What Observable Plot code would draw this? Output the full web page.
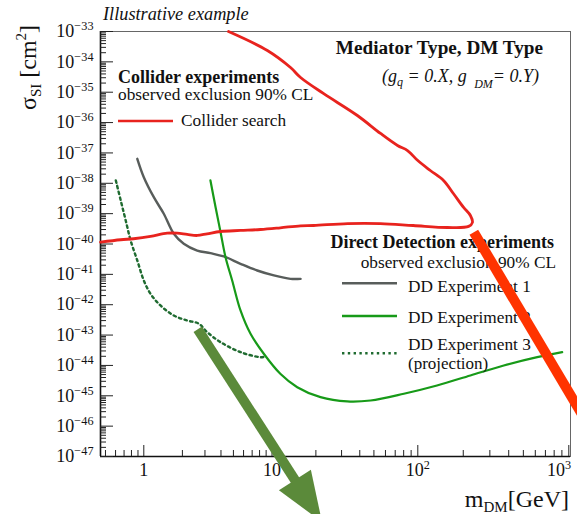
<!DOCTYPE html>
<html>
<head>
<meta charset="utf-8">
<script src="https://cdn.jsdelivr.net/npm/d3@7"></script>
<script src="https://cdn.jsdelivr.net/npm/@observablehq/plot@0.6"></script>
<style>
  html, body { margin: 0; padding: 0; background: #fff; overflow: hidden; }
  #chart svg { display: block; overflow: hidden; }
  #chart text { white-space: pre; }
</style>
</head>
<body>
<div id="chart"></div>
<script>
// ---------------- data ----------------
// Collider search contour (upper branch from top edge to the tip, then lower branch back to the left edge)
const colliderMass = [4.58, 9.2, 13.4, 15.7, 22.5, 38.5, 55.5, 72.6, 85, 100, 121, 148, 172, 201, 223, 230,
  217, 157, 93, 55.5, 33, 19.3, 15.7, 11.4, 8.13, 5.68, 3.97, 3.12, 2.61, 2.18, 1.822, 1.522, 1.128, 0.832, 0.659, 0.457];
const colliderXsec = [1e-33, 2.37e-34, 6.5e-35, 3.05e-35, 9.1e-36, 1.71e-36, 4.37e-37, 1.76e-37, 1.2e-37, 5.6e-38, 2.64e-38, 1.24e-38, 4.6e-39, 1.6e-39, 8.7e-40, 5.1e-40,
  3.8e-40, 3.5e-40, 4.07e-40, 4.7e-40, 4.7e-40, 4.07e-40, 3.98e-40, 3.42e-40, 3.0e-40, 2.79e-40, 2.58e-40, 2.17e-40, 1.91e-40, 2.06e-40, 2.27e-40, 2.27e-40, 1.77e-40, 1.49e-40, 1.38e-40, 1.15e-40];

const dd1Mass = [0.889, 1.0, 1.197, 1.432, 1.714, 2.05, 2.61, 3.31, 4.21, 5.68, 7.67, 10.3, 13.4, 15.7];
const dd1Xsec = [6.41e-38, 1.59e-38, 3.48e-39, 9.9e-40, 2.17e-40, 1.02e-40, 6.1e-41, 4.99e-41, 3.88e-41, 2.23e-41, 1.34e-41, 9.2e-42, 7.1e-42, 7.1e-42];

const dd2Mass = [3.31, 3.63, 3.97, 4.34, 4.89, 5.68, 6.8, 8.63, 11.4, 14.9, 21.5, 32.8, 47.4, 80.2, 134, 223, 371, 618, 904];
const dd2Xsec = [1.24e-38, 1.63e-39, 2.45e-40, 3.68e-41, 6.3e-42, 6.46e-43, 1.1e-43, 2.42e-44, 5.3e-45, 1.92e-45, 9.0e-46, 6.5e-46, 7.0e-46, 1.17e-45, 2.19e-45, 4.67e-45, 9.97e-45, 1.87e-44, 2.74e-44];

const dd3Mass = [0.603, 0.659, 0.721, 0.788, 0.889, 1.0, 1.128, 1.349, 1.714, 2.18, 2.69, 3.12, 3.97, 5.68, 8.13, 8.9];
const dd3Xsec = [1.24e-38, 2.71e-39, 5.96e-40, 1.31e-40, 2.86e-41, 6.3e-42, 2.29e-42, 9.44e-43, 4.42e-43, 3.03e-43, 2.36e-43, 1.25e-43, 5.83e-44, 2.74e-44, 1.87e-44, 1.97e-44];

// overlay arrows (mass, cross-section) : start and end
const redBarFrom = [235, 2.45e-40];
const redBarTo = [1626, 2.14e-47];
const greenArrowFrom = [2.66, 1.49e-43];
const greenArrowTo = [22.2, 6.7e-50];

// ticks
const xTickValues = [1, 10, 100, 1000];
const xTickLabels = ["1", "10", "10^2", "10^3"];
const yTickExponents = [-47, -46, -45, -44, -43, -42, -41, -40, -39, -38, -37, -36, -35, -34, -33];

// ---------------- styling ----------------
const FONT = "'Liberation Serif', 'DejaVu Serif', serif";
const RED = "#e8231e";
const BAR_RED = "#ff3300";
const GRAY = "#585d5b";
const GREEN = "#179a18";
const DKGREEN = "#1f6b30";
const ARROW_GREEN = "#5b8a3a";
const INK = "#111";
const DOTS = "2.4 3.4";

const toRows = (xs, ys) => xs.map((m, i) => ({mass: m, xsec: ys[i]}));
const collider = toRows(colliderMass, colliderXsec);
const dd1 = toRows(dd1Mass, dd1Xsec);
const dd2 = toRows(dd2Mass, dd2Xsec);
const dd3 = toRows(dd3Mass, dd3Xsec);

const yMajor = yTickExponents.map(e => Math.pow(10, e));
const yMinor = [];
for (const e of yTickExponents.slice(0, -1)) for (let k = 2; k <= 9; k++) yMinor.push(k * Math.pow(10, e));
const xDomain = [0.457, 1, 10, 100, 1000, 1026];
const xMinor = [];
for (const e of [-1, 0, 1, 2]) for (let k = 2; k <= 9; k++) {
  const v = k * Math.pow(10, e);
  if (v > xDomain[0] && v < xDomain[xDomain.length - 1]) xMinor.push(v);
}

// ---------------- annotation layout ----------------
const texts = [
  {x: 103, y: 19.5, size: 18.3, style: "italic", parts: ["Illustrative example"]},
  {x: 543, y: 54, anchor: "end", size: 19.2, weight: "bold", parts: ["Mediator Type, DM Type"]},
  {x: 539, y: 81.5, anchor: "end", size: 18, style: "italic",
    parts: ["(g", {text: "q", sub: 4, size: 12}, " = 0.X, g ", {text: " DM", sub: 6, size: 12}, "= 0.Y)"]},
  {x: 118, y: 82.5, size: 18, weight: "bold", parts: ["Collider experiments"]},
  {x: 118, y: 100, size: 17.3, parts: ["observed exclusion 90% CL"]},
  {x: 181, y: 126, size: 17.3, parts: ["Collider search"]},
  {x: 554, y: 248, anchor: "end", size: 18, weight: "bold", parts: ["Direct Detection experiments"]},
  {x: 556, y: 268, anchor: "end", size: 17.3, parts: ["observed exclusion 90% CL"]},
  {x: 408, y: 291.5, size: 17.3, parts: ["DD Experiment 1"]},
  {x: 408, y: 322.5, size: 17.3, parts: ["DD Experiment 2"]},
  {x: 408, y: 349.5, size: 17.3, parts: ["DD Experiment 3"]},
  {x: 408, y: 368.5, size: 17, parts: ["(projection)"]},
  {x: 569, y: 507, anchor: "end", size: 24, parts: ["m", {text: "DM", sub: 5, size: 15}, "[GeV]"]},
  {x: 36, y: 110, rotate: -90, size: 24, parts: ["σ", {text: "SI", sub: 5, size: 15}, " [cm", {text: "2", sup: 10, size: 15}, "]"]}
];
const swatches = [
  {x1: 118, x2: 173, y: 121, stroke: RED, width: 2.6},
  {x1: 342, x2: 397, y: 283.3, stroke: GRAY, width: 2.6},
  {x1: 342, x2: 397, y: 316, stroke: GREEN, width: 2.6},
  {x1: 342, x2: 397, y: 353.3, stroke: DKGREEN, width: 2.4, dash: DOTS}
];

function richText(g, o) {
  const t = g.append("text")
    .attr("transform", `translate(${o.x},${o.y}) rotate(${o.rotate || 0})`)
    .attr("text-anchor", o.anchor || "start")
    .attr("font-family", FONT)
    .attr("font-size", o.size)
    .attr("font-weight", o.weight || "normal")
    .attr("font-style", o.style || "normal")
    .attr("fill", INK);
  let shift = 0;
  for (const p of o.parts) {
    const s = typeof p === "string" ? {text: p} : p;
    const target = s.sub ? s.sub : s.sup ? -s.sup : 0;
    const span = t.append("tspan").text(s.text);
    if (target !== shift) { span.attr("dy", target - shift); shift = target; }
    if (s.size) span.attr("font-size", s.size);
  }
}

function annotationMark() {
  const g = d3.create("svg:g");
  for (const s of swatches) {
    g.append("line").attr("x1", s.x1).attr("x2", s.x2).attr("y1", s.y).attr("y2", s.y)
      .attr("stroke", s.stroke).attr("stroke-width", s.width)
      .attr("stroke-dasharray", s.dash || null);
  }
  for (const t of texts) richText(g, t);
  return g.node();
}

function greenArrowMark(index, scales) {
  const x0 = scales.x(greenArrowFrom[0]), y0 = scales.y(greenArrowFrom[1]);
  const x1 = scales.x(greenArrowTo[0]), y1 = scales.y(greenArrowTo[1]);
  const L = Math.hypot(x1 - x0, y1 - y0);
  const ux = (x1 - x0) / L, uy = (y1 - y0) / L;
  const headLen = 50, headW = 38, shaftW = 10;
  const bx = x1 - ux * headLen, by = y1 - uy * headLen;
  const g = d3.create("svg:g");
  g.append("line").attr("x1", x0).attr("y1", y0).attr("x2", bx + ux * 2).attr("y2", by + uy * 2)
    .attr("stroke", ARROW_GREEN).attr("stroke-width", shaftW).attr("stroke-linecap", "butt");
  const nx = -uy, ny = ux;
  g.append("path")
    .attr("d", `M${x1},${y1}L${bx + nx * headW / 2},${by + ny * headW / 2}L${bx - nx * headW / 2},${by - ny * headW / 2}Z`)
    .attr("fill", ARROW_GREEN);
  return g.node();
}

const expLabel = d => "10^" + Math.round(Math.log10(d));

const svg = Plot.plot({
  width: 577,
  height: 514,
  marginLeft: 100,
  marginRight: 7,
  marginTop: 31,
  marginBottom: 58,
  style: {fontFamily: FONT, fontSize: "17px", background: "#fff", color: INK, overflow: "hidden"},
  x: {type: "log", domain: xDomain, range: [100, 143.3, 271.5, 417.3, 568.3, 570], axis: null},
  y: {type: "log", domain: [1e-47, 1e-33], range: [456, 31], axis: null},
  marks: [
    Plot.frame({stroke: "#666", strokeWidth: 1}),
    Plot.ruleX([xDomain[0]], {stroke: INK, strokeWidth: 1.6}),
    Plot.ruleY([1e-47], {stroke: INK, strokeWidth: 1.6}),
    // inward ticks
    Plot.axisY(yMinor, {anchor: "left", tickSize: 6, dx: 6, tickFormat: () => "", label: null, stroke: "#222"}),
    Plot.axisY(yMajor, {anchor: "left", tickSize: 13, dx: 13, tickFormat: () => "", label: null, stroke: "#222"}),
    Plot.axisX(xMinor, {anchor: "bottom", tickSize: 6, dy: -6, tickFormat: () => "", label: null, stroke: "#222"}),
    Plot.axisX(xTickValues, {anchor: "bottom", tickSize: 11, dy: -11, tickFormat: () => "", label: null, stroke: "#222"}),
    // tick labels
    Plot.axisY(yMajor, {anchor: "left", tickSize: 0, tickPadding: 7, fontSize: 18, fill: INK, label: null, tickFormat: expLabel}),
    Plot.axisX(xTickValues, {anchor: "bottom", tickSize: 0, tickPadding: 7, fontSize: 18, fill: INK, label: null,
      tickFormat: d => xTickLabels[xTickValues.indexOf(d)]}),
    // exclusion curves
    Plot.line(dd3, {x: "mass", y: "xsec", stroke: DKGREEN, strokeWidth: 2.4, strokeDasharray: DOTS, curve: "catmull-rom"}),
    Plot.line(dd1, {x: "mass", y: "xsec", stroke: GRAY, strokeWidth: 2.4, curve: "catmull-rom"}),
    Plot.line(dd2, {x: "mass", y: "xsec", stroke: GREEN, strokeWidth: 2.2, curve: "catmull-rom"}),
    Plot.line(collider, {x: "mass", y: "xsec", stroke: RED, strokeWidth: 2.8, curve: "catmull-rom"}),
    annotationMark,
    // overlay arrows
    Plot.link([{from: redBarFrom, to: redBarTo}], {
      x1: d => d.from[0], y1: d => d.from[1], x2: d => d.to[0], y2: d => d.to[1],
      stroke: BAR_RED, strokeWidth: 10, strokeLinecap: "butt"
    }),
    greenArrowMark
  ]
});

// superscript exponents in tick labels
d3.select(svg).selectAll("text").each(function () {
  if (this.querySelector("tspan")) return;
  const m = /^10\^(-?\d+)$/.exec(this.textContent);
  if (!m) return;
  const sel = d3.select(this);
  sel.text(null);
  sel.append("tspan").text("10");
  sel.append("tspan").attr("dy", -7).attr("font-size", "0.68em").text(m[1].replace("-", "\u2212"));
});

document.getElementById("chart").appendChild(svg);

// keep the rightmost tick label inside the frame
d3.select(svg).selectAll("text").each(function () {
  const b = this.getBBox();
  const ctm = this.getCTM();
  if (!ctm || ctm.b !== 0) return;
  const right = ctm.e + b.x + b.width;
  if (right > 572 && right < 600) {
    const first = this.querySelector("tspan");
    if (first) d3.select(first).attr("dx", -(right - 571));
  }
});
</script>
</body>
</html>
